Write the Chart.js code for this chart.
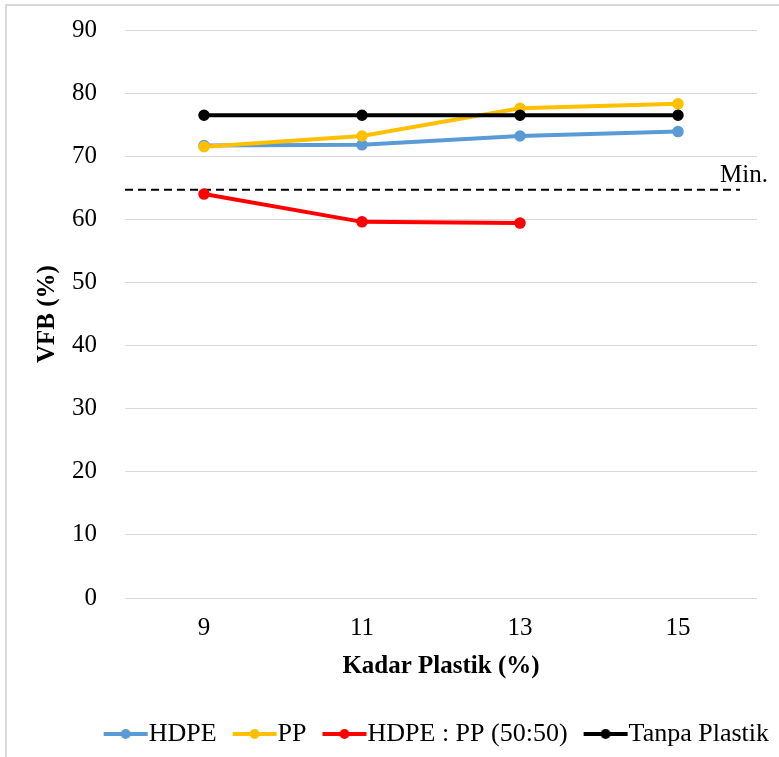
<!DOCTYPE html>
<html>
<head>
<meta charset="utf-8">
<script src="https://cdn.jsdelivr.net/npm/chart.js@4/dist/chart.umd.min.js"></script>
<style>
  html, body { margin: 0; padding: 0; background: #ffffff; }
  #wrap { position: relative; width: 779px; height: 757px; overflow: hidden; }
  #frame { position: absolute; left: 5px; top: 4px; right: -10px; bottom: -10px;
           border-top: 2px solid #d9d9d9; border-left: 2px solid #d9d9d9; }
  canvas { position: absolute; left: 0; top: 0; }
</style>
</head>
<body>
<div id="wrap">
  <div id="frame"></div>
  <canvas id="chart" width="779" height="757"></canvas>
</div>
<script>
// Plastic content (%) on the x axis
const kadarPlastik = ['9', '11', '13', '15'];

// VFB (%) for each mix
const vfbHDPE = [71.7, 71.8, 73.2, 73.9];
const vfbPP = [71.5, 73.2, 77.6, 78.3];
const vfbCampuran = [64.0, 59.6, 59.4, null];
const vfbTanpaPlastik = [76.5, 76.5, 76.5, 76.5];

// Minimum VFB requirement
const vfbMin = 64.7;
const minLabel = 'Min.';

const yTicks = { min: 0, max: 90, step: 10 };

const FONT = "'Liberation Serif', 'Times New Roman', serif";

// Legend swatch: a short line with a round marker
function legendSwatch(color) {
  const c = document.createElement('canvas');
  c.width = 64; c.height = 14;
  const g = c.getContext('2d');
  g.strokeStyle = color;
  g.lineWidth = 4;
  g.beginPath();
  g.moveTo(19, 7);
  g.lineTo(63, 7);
  g.stroke();
  g.fillStyle = color;
  g.beginPath();
  g.arc(41, 7, 5, 0, Math.PI * 2);
  g.fill();
  return c;
}

function series(label, data, color, order) {
  return {
    label, data, order,
    borderColor: color,
    backgroundColor: color,
    pointBackgroundColor: color,
    pointBorderColor: color,
    borderWidth: 4,
    pointRadius: 5,
    pointBorderWidth: 1.5,
    pointHoverRadius: 5,
    tension: 0,
    spanGaps: false,
    swatch: legendSwatch(color)
  };
}

// Dashed minimum line with its label
const minLinePlugin = {
  id: 'minLine',
  beforeDatasetsDraw(chart) {
    const { ctx, chartArea, scales } = chart;
    const y = scales.y.getPixelForValue(vfbMin);
    const xEnd = chartArea.right - 17;
    ctx.save();
    ctx.strokeStyle = '#000000';
    ctx.lineWidth = 2;
    ctx.setLineDash([8, 5]);
    ctx.beginPath();
    ctx.moveTo(chartArea.left, y);
    ctx.lineTo(xEnd, y);
    ctx.stroke();
    ctx.setLineDash([]);
    ctx.fillStyle = '#000000';
    ctx.font = '25px ' + FONT;
    ctx.textAlign = 'left';
    ctx.textBaseline = 'alphabetic';
    ctx.fillText(minLabel, xEnd - 20, y - 8);
    ctx.restore();
  }
};

new Chart(document.getElementById('chart'), {
  type: 'line',
  data: {
    labels: kadarPlastik,
    datasets: [
      series('HDPE', vfbHDPE, '#5b9bd5', 3),
      series('PP', vfbPP, '#ffc000', 2),
      series('HDPE : PP (50:50)', vfbCampuran, '#ff0000', 1),
      series('Tanpa Plastik', vfbTanpaPlastik, '#000000', 0)
    ]
  },
  options: {
    responsive: false,
    animation: false,
    devicePixelRatio: 1,
    layout: { padding: { top: 30, left: 0, right: 0, bottom: 0 } },
    plugins: {
      tooltip: { enabled: false },
      legend: {
        position: 'bottom',
        align: 'end',
        labels: {
          font: { family: FONT, size: 26 },
          color: '#000000',
          padding: 10,
          usePointStyle: true,
          pointStyleWidth: 38,
          generateLabels(chart) {
            return chart.data.datasets.map((ds, i) => ({
              text: ds.label,
              fillStyle: ds.borderColor,
              strokeStyle: ds.borderColor,
              fontColor: '#000000',
              lineWidth: 0,
              pointStyle: ds.swatch,
              hidden: false,
              datasetIndex: i
            }));
          }
        }
      }
    },
    scales: {
      x: {
        type: 'category',
        offset: true,
        grid: { display: false, drawTicks: false },
        border: { display: false },
        ticks: { font: { family: FONT, size: 25 }, color: '#000000', padding: 15 },
        title: {
          display: true,
          text: 'Kadar Plastik (%)',
          font: { family: FONT, size: 25, weight: 'bold' },
          color: '#000000',
          padding: { top: 8, bottom: 29 }
        },
        afterFit(scale) { scale.height = 113; }
      },
      y: {
        type: 'linear',
        position: 'left',
        min: yTicks.min,
        max: yTicks.max,
        grid: { color: '#d9d9d9', lineWidth: 1, drawTicks: false },
        border: { display: false },
        ticks: { stepSize: yTicks.step, font: { family: FONT, size: 25 }, color: '#000000', padding: 28 },
        title: {
          display: true,
          text: 'VFB (%)',
          font: { family: FONT, size: 25, weight: 'bold' },
          color: '#000000',
          padding: { top: 33, bottom: 0 }
        },
        afterFit(scale) {
          scale.width = 125;
          scale.paddingTop = 0;
          scale.paddingBottom = 0;
        }
      },
      yRight: {
        type: 'linear',
        position: 'right',
        grid: { display: false, drawTicks: false },
        border: { display: false },
        ticks: { display: false },
        afterFit(scale) { scale.width = 22; }
      }
    }
  },
  plugins: [minLinePlugin]
});
</script>
</body>
</html>
